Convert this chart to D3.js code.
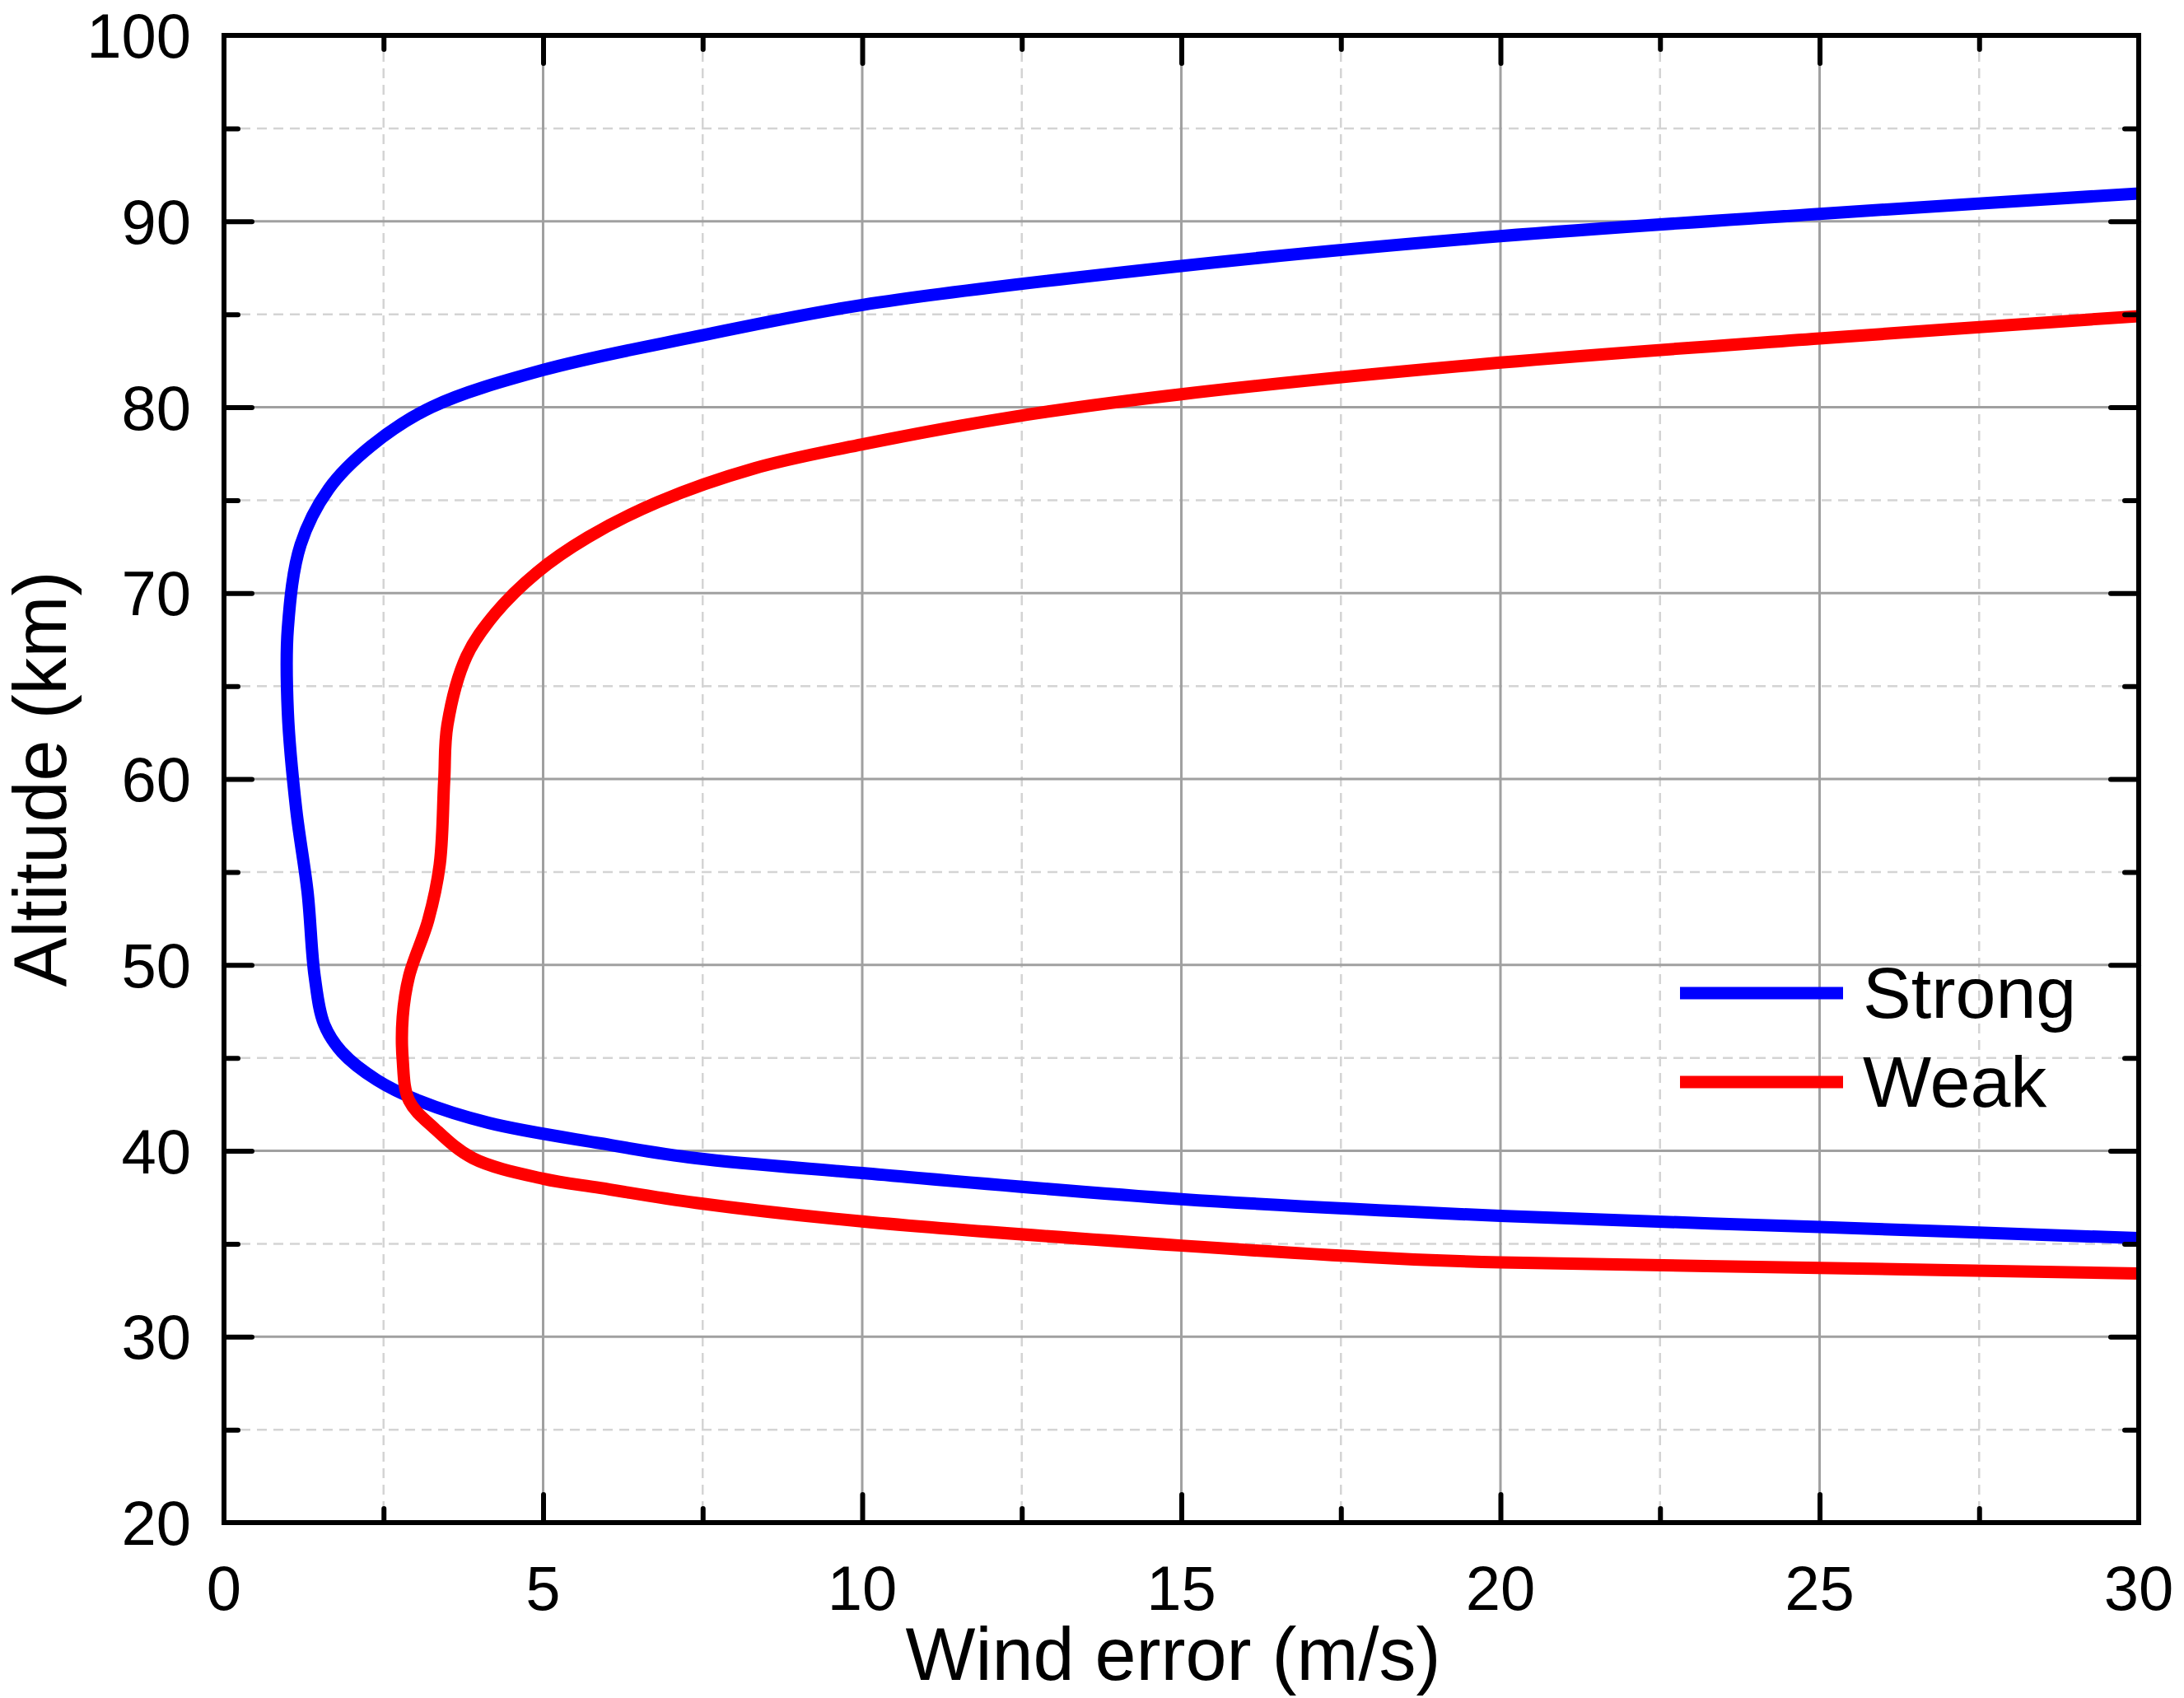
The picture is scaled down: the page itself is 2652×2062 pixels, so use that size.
<!DOCTYPE html>
<html>
<head>
<script src="https://cdnjs.cloudflare.com/ajax/libs/d3/7.8.5/d3.min.js"></script>
<style>
  body { margin: 0; background: #fff; }
  svg { font-family: 'Liberation Sans', Arial, sans-serif; }
</style>
</head>
<body>
<svg id="chart" width="2652" height="2062"></svg>
<script>
  // wind error (m/s) vs altitude (km)
  var strongX = [30, 25, 20, 15, 10, 7.4, 5, 3.25, 2.3, 1.64, 1.2, 1.0, 1.0, 1.13, 1.31, 1.42, 1.57, 1.85, 2.4, 3.05, 4.15, 5.9, 7.4, 10, 15, 20, 25, 30];
  var strongY = [91.5, 90.4, 89.2, 87.6, 85.5, 83.8, 82, 80, 77.9, 75.6, 72.6, 68.1, 63.6, 58.4, 53.9, 49.4, 46.8, 45.3, 43.8, 42.7, 41.5, 40.4, 39.6, 38.8, 37.4, 36.5, 35.9, 35.3];
  var weakX = [30, 25, 20, 15, 12.4, 10, 8.3, 6.8, 5.7, 4.9, 4.25, 3.8, 3.5, 3.45, 3.38, 3.2, 2.9, 2.8, 2.8, 2.9, 3.3, 3.9, 5, 5.9, 7.4, 10, 15, 18.4, 20, 25, 30];
  var weakY = [84.9, 83.7, 82.4, 80.7, 79.5, 78.0, 76.7, 74.9, 73.0, 71.1, 68.9, 66.6, 62.9, 59.9, 55.4, 52.4, 49.4, 47.2, 44.9, 42.7, 41.2, 39.6, 38.5, 38.0, 37.2, 36.2, 34.9, 34.2, 34.0, 33.7, 33.4];
  var xTicks = [0, 5, 10, 15, 20, 25, 30];
  var yTicks = [20, 30, 40, 50, 60, 70, 80, 90, 100];
  var seriesNames = ["Strong", "Weak"];
  var seriesColors = ["#0000ff", "#ff0000"];

  var L = 272, T = 43, R = 2597, B = 1849;
  var svg = d3.select("#chart");
  var x = d3.scaleLinear().domain([0, 30]).range([L, R]);
  var y = d3.scaleLinear().domain([20, 100]).range([B, T]);

  var xMinor = d3.range(2.5, 30, 5), yMinor = d3.range(25, 100, 10);

  // grid
  var g = svg.append("g");
  g.selectAll(".vm").data(xMinor).join("line")
    .attr("x1", d => x(d)).attr("x2", d => x(d)).attr("y1", T).attr("y2", B)
    .attr("stroke", "#d4d4d4").attr("stroke-width", 2.5).attr("stroke-dasharray", "12,8");
  g.selectAll(".hm").data(yMinor).join("line")
    .attr("y1", d => y(d)).attr("y2", d => y(d)).attr("x1", L).attr("x2", R)
    .attr("stroke", "#d4d4d4").attr("stroke-width", 2.5).attr("stroke-dasharray", "12,8");
  g.selectAll(".vM").data(xTicks.slice(1, -1)).join("line")
    .attr("x1", d => x(d)).attr("x2", d => x(d)).attr("y1", T).attr("y2", B)
    .attr("stroke", "#a0a0a0").attr("stroke-width", 3);
  g.selectAll(".hM").data(yTicks.slice(1, -1)).join("line")
    .attr("y1", d => y(d)).attr("y2", d => y(d)).attr("x1", L).attr("x2", R)
    .attr("stroke", "#a0a0a0").attr("stroke-width", 3);

  // curves
  var line = d3.line().x(d => x(d[0])).y(d => y(d[1])).curve(d3.curveCatmullRom.alpha(0.5));
  var series = [d3.zip(strongX, strongY), d3.zip(weakX, weakY)];
  svg.append("defs").append("clipPath").attr("id", "clip")
    .append("rect").attr("x", L).attr("y", T).attr("width", R - L).attr("height", B - T);
  series.forEach(function(s, i) {
    svg.append("path").datum(s).attr("d", line).attr("fill", "none")
      .attr("stroke", seriesColors[i]).attr("stroke-width", 15)
      .attr("clip-path", "url(#clip)");
  });

  // axes with inward ticks on all four sides
  function axis(gen, tr, ticks, size) {
    return svg.append("g").attr("transform", tr)
      .call(gen.tickValues(ticks).tickSize(size).tickFormat(""))
      .call(a => a.select(".domain").remove())
      .call(a => a.selectAll("line").attr("stroke", "#000").attr("stroke-width", 6).attr("stroke-linecap", "round"));
  }
  axis(d3.axisTop(x), `translate(0,${B})`, xTicks.slice(1, -1), 34);
  axis(d3.axisTop(x), `translate(0,${B})`, xMinor, 17);
  axis(d3.axisBottom(x), `translate(0,${T})`, xTicks.slice(1, -1), 34);
  axis(d3.axisBottom(x), `translate(0,${T})`, xMinor, 17);
  axis(d3.axisRight(y), `translate(${L},0)`, yTicks.slice(1, -1), 34);
  axis(d3.axisRight(y), `translate(${L},0)`, yMinor, 17);
  axis(d3.axisLeft(y), `translate(${R},0)`, yTicks.slice(1, -1), 34);
  axis(d3.axisLeft(y), `translate(${R},0)`, yMinor, 17);

  svg.append("rect").attr("x", L).attr("y", T).attr("width", R - L).attr("height", B - T)
    .attr("fill", "none").attr("stroke", "#000").attr("stroke-width", 6);

  // tick labels
  svg.selectAll(".xl").data(xTicks).join("text")
    .attr("x", d => x(d)).attr("y", 1955).attr("text-anchor", "middle")
    .attr("font-size", 76).text(d => d);
  svg.selectAll(".yl").data(yTicks).join("text")
    .attr("x", 232).attr("y", d => y(d) + 27).attr("text-anchor", "end")
    .attr("font-size", 76).text(d => d);

  // titles
  svg.append("text").attr("x", (L + R) / 2 - 10).attr("y", 2040).attr("text-anchor", "middle")
    .attr("font-size", 90).text("Wind error (m/s)");
  svg.append("text").attr("transform", `translate(80,${(T + B) / 2}) rotate(-90)`)
    .attr("text-anchor", "middle").attr("font-size", 90).text("Altitude (km)");

  // legend
  var legY = [1206, 1314];
  seriesNames.forEach(function(n, i) {
    svg.append("line").attr("x1", 2040).attr("x2", 2238).attr("y1", legY[i]).attr("y2", legY[i])
      .attr("stroke", seriesColors[i]).attr("stroke-width", 15);
    svg.append("text").attr("x", 2262).attr("y", legY[i] + 30).attr("font-size", 88).text(n);
  });
</script>
</body>
</html>
